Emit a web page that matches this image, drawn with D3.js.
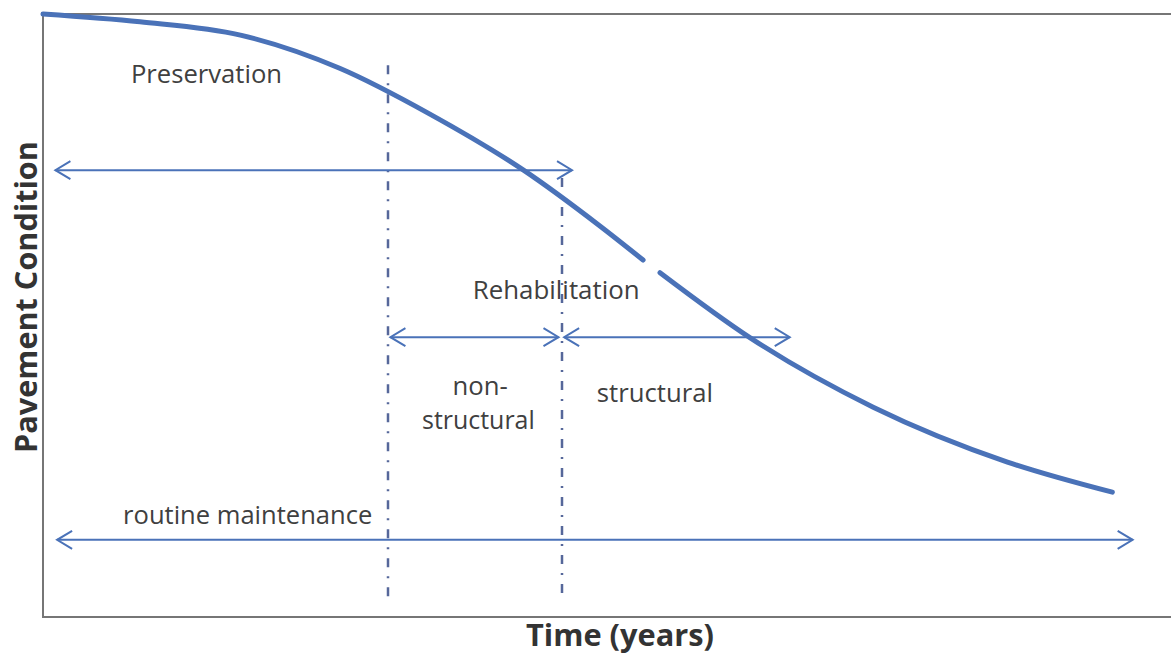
<!DOCTYPE html>
<html>
<head>
<meta charset="utf-8">
<script src="https://cdn.jsdelivr.net/npm/d3@7"></script>
<style>
  body { margin: 0; background: #fff; }
  svg { display: block; }
  text { font-family: "Open Sans", "DejaVu Sans", sans-serif; }
</style>
</head>
<body>
<div id="chart"></div>
<script>
// deterioration curve, time vs condition (both 0..100, arbitrary units)
const curveTime = [0, 8.6, 17.5, 26.3, 34.3, 42.6, 49.4, 53.2, 53.9, 54.7, 62.7, 73.6, 85.5, 94.8]
const curveCond = [100, 98.7, 96.5, 91.0, 83.4, 74.1, 64.8, 59.2, null, 57.1, 46.3, 34.8, 25.7, 20.7]

// treatment windows (double headed arrows)
const arrowNames = ['preservation', 'non-structural', 'structural', 'routine maintenance']
const arrowStart = [1.1, 30.8, 46.2, 1.25]
const arrowEnd = [46.9, 45.7, 66.2, 96.6]
const arrowLevel = [74.1, 46.4, 46.4, 12.8]

// dash-dot dividers
const dividerTime = [30.6, 46.0]
const dividerTop = [91.5, 72.8]
const dividerBottom = [3.2, 3.5]

// labels: text, left x (time), baseline (condition), target width (time units)
const labelText = ['Preservation', 'Rehabilitation', 'non-', 'structural', 'structural', 'routine maintenance']
const labelX = [7.8, 38.1, 36.3, 33.6, 49.1, 7.1]
const labelY = [88.6, 52.8, 36.8, 31.2, 35.7, 15.4]
const labelW = [13.4, 14.8, 4.9, 10.0, 10.3, 22.1]

const width = 1171, height = 656
const margin = { left: 43, top: 14, right: 0, bottom: 39 }

const svg = d3.select('#chart').append('svg')
    .attr('width', width)
    .attr('height', height)

const x = d3.scaleLinear().domain([0, 100]).range([margin.left, width - margin.right])
const y = d3.scaleLinear().domain([0, 100]).range([height - margin.bottom, margin.top])

const blue = '#4a72b8'
const textColor = '#404040'

// frame (right side runs off the picture)
svg.append('path')
    .attr('d', `M${width + 5},${y(100)}H${x(0)}V${y(0)}H${width + 5}`)
    .attr('fill', 'none')
    .attr('stroke', '#767676')
    .attr('stroke-width', 2)

// dividers
svg.append('g').selectAll('line').data(dividerTime).enter()
    .append('line')
    .attr('x1', d => Math.round(x(d)))
    .attr('x2', d => Math.round(x(d)))
    .attr('y1', (d, i) => y(dividerTop[i]))
    .attr('y2', (d, i) => y(dividerBottom[i]))
    .attr('stroke', '#56679a')
    .attr('stroke-width', 2.5)
    .attr('stroke-dasharray', '9,9,2,9')

// arrows
const head = 15, spread = 9
const arrows = svg.append('g').selectAll('g').data(arrowNames).enter().append('g')
arrows.append('line')
    .attr('x1', (d, i) => x(arrowStart[i]))
    .attr('x2', (d, i) => x(arrowEnd[i]))
    .attr('y1', (d, i) => y(arrowLevel[i]))
    .attr('y2', (d, i) => y(arrowLevel[i]))
    .attr('stroke', blue)
    .attr('stroke-width', 2)
arrows.append('path')
    .attr('d', (d, i) => {
        const x0 = x(arrowStart[i]), x1 = x(arrowEnd[i]), yy = y(arrowLevel[i])
        return `M${x0 + head},${yy - spread}L${x0},${yy}L${x0 + head},${yy + spread}` +
            `M${x1 - head},${yy - spread}L${x1},${yy}L${x1 - head},${yy + spread}`
    })
    .attr('fill', 'none')
    .attr('stroke', blue)
    .attr('stroke-width', 2)

// curve
const line = d3.line()
    .defined((d, i) => curveCond[i] != null)
    .x((d, i) => x(curveTime[i]))
    .y((d, i) => y(curveCond[i]))
    .curve(d3.curveMonotoneX)

svg.append('path')
    .datum(curveTime)
    .attr('d', line)
    .attr('fill', 'none')
    .attr('stroke', blue)
    .attr('stroke-width', 5)
    .attr('stroke-linecap', 'round')

// fit a text's font size so it spans a given pixel width
function fit(sel, target) {
    sel.each(function () {
        const w = this.getComputedTextLength()
        const fs = parseFloat(d3.select(this).attr('font-size'))
        d3.select(this).attr('font-size', fs * target / w)
    })
}

svg.append('g').selectAll('text').data(labelText).enter()
    .append('text')
    .text(d => d)
    .attr('x', (d, i) => x(labelX[i]))
    .attr('y', (d, i) => y(labelY[i]))
    .attr('font-size', 20)
    .attr('fill', textColor)
    .each(function (d, i) { fit(d3.select(this), x(labelW[i]) - x(0)) })

const xTitle = svg.append('text')
    .text('Time (years)')
    .attr('x', 620)
    .attr('y', 646)
    .attr('text-anchor', 'middle')
    .attr('font-size', 24)
    .attr('font-weight', 'bold')
    .attr('fill', '#333')
fit(xTitle, 188)

const yTitle = svg.append('text')
    .text('Pavement Condition')
    .attr('transform', 'translate(37,297) rotate(-90)')
    .attr('text-anchor', 'middle')
    .attr('font-size', 24)
    .attr('font-weight', 'bold')
    .attr('fill', '#333')
fit(yTitle, 312)
</script>
</body>
</html>
